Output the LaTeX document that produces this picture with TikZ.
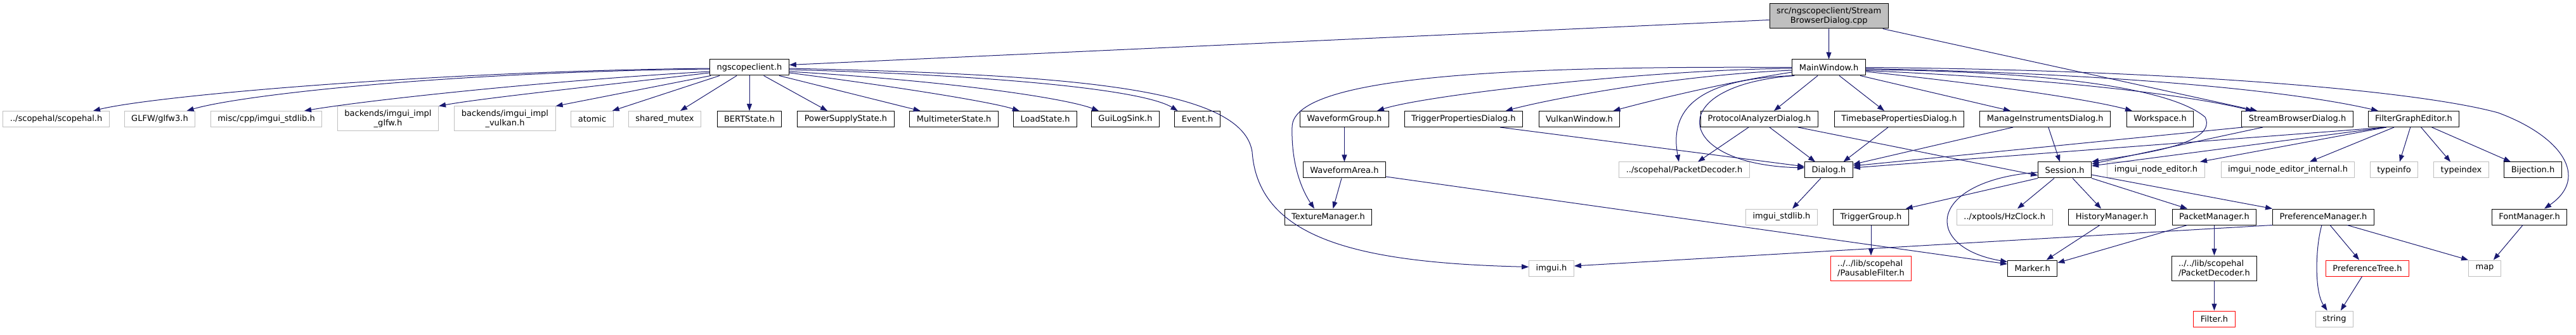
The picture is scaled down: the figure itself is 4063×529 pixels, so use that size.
\documentclass[tikz,border=0pt]{standalone}
\usepackage{fontspec}
\setmainfont{DejaVu Sans}
\usetikzlibrary{arrows.meta}
\definecolor{edgeblue}{HTML}{191970}
\definecolor{extgray}{HTML}{BFBFBF}
\definecolor{rootfill}{HTML}{BFBFBF}
\begin{document}
\begin{tikzpicture}[x=1pt,y=-1pt,
  box/.style={draw=black, line width=1pt, fill=white, inner xsep=11pt, inner ysep=1pt, minimum height=25pt, font=\fontsize{13}{15}\selectfont, align=center},
  ext/.style={box, draw=extgray},
  inc/.style={box, draw=red},
  tall/.style={minimum height=39pt},
  rootbox/.style={box, fill=rootfill, tall},
  dep/.style={draw=edgeblue, line width=1pt, -{Triangle[length=11pt,width=8pt]}}
]
\fill[white] (0,0) rectangle (4063,529);
\useasboundingbox (0,0) rectangle (4063,529);

% rank 0-1
\node[rootbox] (root) at (2884.7,25.5) {src/ngscopeclient/Stream\\BrowserDialog.cpp};
\node[box] (ngs) at (1182,106.5) {ngscopeclient.h};
\node[box] (mw) at (2884.5,106.5) {MainWindow.h};
% rank 2
\node[ext] (scopehal) at (88.6,188) {../scopehal/scopehal.h};
\node[ext] (glfw) at (252,188) {GLFW/glfw3.h};
\node[ext] (miscstd) at (420,188) {misc/cpp/imgui\_stdlib.h};
\node[ext,tall] (implglfw) at (612,187.5) {backends/imgui\_impl\\\_glfw.h};
\node[ext,tall] (implvulkan) at (796.5,187.5) {backends/imgui\_impl\\\_vulkan.h};
\node[ext] (atomic) at (934,188) {atomic};
\node[ext] (shmutex) at (1048.5,188) {shared\_mutex};
\node[box] (bert) at (1182,188) {BERTState.h};
\node[box] (psu) at (1334,188) {PowerSupplyState.h};
\node[box] (dmm) at (1504.6,188) {MultimeterState.h};
\node[box] (load) at (1648.6,188) {LoadState.h};
\node[box] (guilog) at (1775,188) {GuiLogSink.h};
\node[box] (event) at (1888.6,188) {Event.h};
\node[box] (wfg) at (2120.4,188) {WaveformGroup.h};
\node[box] (trigdlg) at (2308.3,188) {TriggerPropertiesDialog.h};
\node[box] (vkwin) at (2491,188) {VulkanWindow.h};
\node[box] (protodlg) at (2775,188) {ProtocolAnalyzerDialog.h};
\node[box] (tbdlg) at (2995.4,188) {TimebasePropertiesDialog.h};
\node[box] (midlg) at (3225.8,188) {ManageInstrumentsDialog.h};
\node[box] (workspace) at (3407,188) {Workspace.h};
\node[box] (sbd) at (3623.5,188) {StreamBrowserDialog.h};
\node[box] (fge) at (3807,188) {FilterGraphEditor.h};
% rank 3
\node[box] (wfa) at (2120.4,268.5) {WaveformArea.h};
\node[ext] (pdec) at (2656.5,268.5) {../scopehal/PacketDecoder.h};
\node[box] (dialog) at (2884.5,268.5) {Dialog.h};
\node[box] (session) at (3256.6,268.5) {Session.h};
\node[ext] (ned) at (3400.5,268.5) {imgui\_node\_editor.h};
\node[ext] (nedint) at (3608.5,268.5) {imgui\_node\_editor\_internal.h};
\node[ext] (typeinfo) at (3776,268.5) {typeinfo};
\node[ext] (typeindex) at (3882,268.5) {typeindex};
\node[box] (bij) at (3995,268.5) {Bijection.h};
% rank 4
\node[box] (texmgr) at (2095,342.5) {TextureManager.h};
\node[ext] (stdlib) at (2810,342.5) {imgui\_stdlib.h};
\node[box] (trggrp) at (2951,342.5) {TriggerGroup.h};
\node[ext] (hzclock) at (3161.7,342.5) {../xptools/HzClock.h};
\node[box] (histmgr) at (3331,342.5) {HistoryManager.h};
\node[box] (pktmgr) at (3492.4,342.5) {PacketManager.h};
\node[box] (prefmgr) at (3664.5,342.5) {PreferenceManager.h};
\node[box] (fontmgr) at (3989.6,342.5) {FontManager.h};
% rank 5
\node[ext] (imgui) at (2447,423.5) {imgui.h};
\node[inc,tall,align=left] (pausable) at (2951,423.5) {../../lib/scopehal\\/PausableFilter.h};
\node[box] (marker) at (3205.7,423.5) {Marker.h};
\node[box,tall,align=left] (libpdec) at (3492.4,423.5) {../../lib/scopehal\\/PacketDecoder.h};
\node[inc] (preftree) at (3734,423.5) {PreferenceTree.h};
\node[ext] (map) at (3919,423.5) {map};
% rank 6
\node[inc] (filter) at (3492.4,503.5) {Filter.h};
\node[ext] (string) at (3682,503.5) {string};

% root edges
\draw[dep] ([yshift=-6pt]root.west) -- ([yshift=4pt]ngs.east);
\draw[dep] (root.south) -- (mw.north);
\draw[dep] ([xshift=85pt]root.south) -- ([xshift=-63.5pt]sbd.north);

% ngscopeclient edges
\draw[dep] ([yshift=-1.5pt]ngs.west) .. controls (700,112) and (250,150) .. ([xshift=58.4pt]scopehal.north);
\draw[dep] ([yshift=-2.5pt]ngs.west) .. controls (700,114) and (380,150) .. ([xshift=42.6pt]glfw.north);
\draw[dep] ([yshift=-6.5pt]ngs.west) .. controls (900,125) and (600,155) .. ([xshift=60pt]miscstd.north);
\draw[dep] ([yshift=-8.5pt]ngs.west) .. controls (950,135) and (760,155) .. (implglfw.north east);
\draw[dep] ([xshift=2pt]ngs.south west) -- (implvulkan.north east);
\draw[dep] ([xshift=-47pt]ngs.south) -- ([xshift=31.7pt]atomic.north);
\draw[dep] ([xshift=-20pt]ngs.south) -- ([xshift=24.5pt]shmutex.north);
\draw[dep] (ngs.south) -- (bert.north);
\draw[dep] ([xshift=22.6pt]ngs.south) -- ([xshift=-29pt]psu.north);
\draw[dep] ([xshift=47pt]ngs.south) -- ([xshift=-53pt]dmm.north);
\draw[dep] ([yshift=-8.5pt]ngs.east) .. controls (1400,135) and (1560,160) .. ([xshift=-40.8pt]load.north);
\draw[dep] ([yshift=-6.5pt]ngs.east) .. controls (1500,128) and (1680,155) .. ([xshift=-42pt]guilog.north);
\draw[dep] ([yshift=-3.5pt]ngs.east) .. controls (1550,118) and (1800,140) .. ([xshift=-31pt]event.north);
\draw[dep] ([yshift=-1.5pt]ngs.east) .. controls (1700,118) and (1960,140) .. (1975,240) .. controls (1985,380) and (2150,415) .. ([yshift=2pt]imgui.west);

% MainWindow edges
\draw[dep] ([yshift=-1.5pt]mw.west) .. controls (2600,110) and (2250,150) .. ([xshift=51.6pt]wfg.north);
\draw[dep] ([yshift=-4.5pt]mw.west) .. controls (2650,118) and (2450,155) .. ([xshift=66.5pt]trigdlg.north);
\draw[dep] ([yshift=-7.5pt]mw.west) .. controls (2720,130) and (2600,160) .. ([xshift=53.5pt]vkwin.north);
\draw[dep] (mw.west) .. controls (2400,104) and (2040,118) .. (2038,200) .. controls (2036,270) and (2060,310) .. ([xshift=-22pt]texmgr.north);
\draw[dep] ([xshift=-17.5pt]mw.south) -- ([xshift=23pt]protodlg.north);
\draw[dep] ([xshift=2pt]mw.south west) .. controls (2660,125) and (2635,185) .. ([xshift=-8.5pt]pdec.north);
\draw[dep] ([xshift=4pt]mw.south west) .. controls (2620,135) and (2640,260) .. ([yshift=3.5pt]dialog.west);
\draw[dep] ([xshift=16.5pt]mw.south) -- ([xshift=-23.4pt]tbdlg.north);
\draw[dep] ([xshift=49.5pt]mw.south) -- ([xshift=-54.8pt]midlg.north);
\draw[dep] ([yshift=-6.5pt]mw.east) .. controls (3150,135) and (3300,158) .. ([xshift=-44pt]workspace.north);
\draw[dep] ([yshift=-5pt]mw.east) .. controls (3250,125) and (3450,150) .. ([xshift=-70.5pt]sbd.north);
\draw[dep] ([yshift=-3.5pt]mw.east) .. controls (3200,112) and (3420,135) .. (3478,185) .. controls (3500,230) and (3360,245) .. (session.north east);
\draw[dep] ([yshift=-2pt]mw.east) .. controls (3300,115) and (3600,140) .. ([xshift=-56pt]fge.north);
\draw[dep] (mw.east) .. controls (3400,110) and (3800,140) .. (3940,178) .. controls (4040,215) and (4085,280) .. ([xshift=23.4pt]fontmgr.north);

% dialog-level edges
\draw[dep] ([xshift=-17pt]protodlg.south) -- ([xshift=21.5pt]pdec.north);
\draw[dep] ([xshift=16pt]protodlg.south) -- ([xshift=-21.5pt]dialog.north);
\draw[dep] ([xshift=61pt]protodlg.south) -- ([yshift=-8.5pt]session.west);
\draw[dep] ([xshift=57.7pt]trigdlg.south) -- ([yshift=5.5pt]dialog.west);
\draw[dep] ([xshift=-17.4pt]tbdlg.south) -- ([xshift=23pt]dialog.north);
\draw[dep] ([xshift=-50.8pt]midlg.south) -- ([yshift=9pt]dialog.east);
\draw[dep] ([xshift=5pt]midlg.south) -- ([xshift=-7.6pt]session.north);
\draw[dep] ([xshift=2pt]sbd.south west) -- ([yshift=6.5pt]dialog.east);
\draw[dep] ([xshift=-54.5pt]sbd.south) -- ([yshift=9.5pt]session.east);
\draw[dep] ([xshift=-43.4pt]fge.south) -- ([yshift=3.5pt]dialog.east);
\draw[dep] ([xshift=-43.4pt]fge.south) -- ([yshift=6.5pt]session.east);
\draw[dep] ([xshift=-43.4pt]fge.south) -- ([xshift=69.5pt]ned.north);
\draw[dep] ([xshift=-31pt]fge.south) -- ([xshift=34.5pt]nedint.north);
\draw[dep] ([xshift=-5.3pt]fge.south) -- ([xshift=8.8pt]typeinfo.north);
\draw[dep] ([xshift=11.6pt]fge.south) -- ([xshift=-17pt]typeindex.north);
\draw[dep] ([xshift=28.5pt]fge.south) -- ([xshift=-35pt]bij.north);

% lower edges
\draw[dep] ([xshift=-12.7pt]dialog.south) -- ([xshift=17pt]stdlib.north);
\draw[dep] (wfg.south) -- (wfa.north);
\draw[dep] ([xshift=-4.4pt]wfa.south) -- ([xshift=7.5pt]texmgr.north);
\draw[dep] ([yshift=-10.5pt]wfa.east) -- ([yshift=6.5pt]marker.west);
\draw[dep] (session.south west) -- ([xshift=54.7pt]trggrp.north);
\draw[dep] ([yshift=-3.5pt]session.west) .. controls (3040,285) and (3030,390) .. ([yshift=10pt]marker.west);
\draw[dep] ([xshift=-16.6pt]session.south) -- ([xshift=20.3pt]hzclock.north);
\draw[dep] ([xshift=12.4pt]session.south) -- ([xshift=-17pt]histmgr.north);
\draw[dep] (session.south east) -- ([xshift=-42.4pt]pktmgr.north);
\draw[dep] ([yshift=-7.5pt]session.east) -- (prefmgr.north west);
\draw[dep] ([xshift=-19pt]histmgr.south) -- ([xshift=22pt]marker.north);
\draw[dep] ([xshift=-42.4pt]pktmgr.south) -- ([yshift=8.5pt]marker.east);
\draw[dep] (pktmgr.south) -- (libpdec.north);
\draw[dep] (libpdec.south) -- (filter.north);
\draw[dep] (trggrp.south) -- (pausable.north);
\draw[dep] (prefmgr.south west) -- ([yshift=3.5pt]imgui.east);
\draw[dep] ([xshift=-2.5pt]prefmgr.south) .. controls (3652,390) and (3650,460) .. ([xshift=-11.4pt]string.north);
\draw[dep] ([xshift=10.5pt]prefmgr.south) -- ([xshift=-13pt]preftree.north);
\draw[dep] ([xshift=37.5pt]prefmgr.south) -- (map.north west);
\draw[dep] ([xshift=-8.4pt]preftree.south) -- ([xshift=9.8pt]string.north);
\draw[dep] ([xshift=-10.6pt]fontmgr.south) -- ([xshift=13.8pt]map.north);
\end{tikzpicture}
\end{document}
